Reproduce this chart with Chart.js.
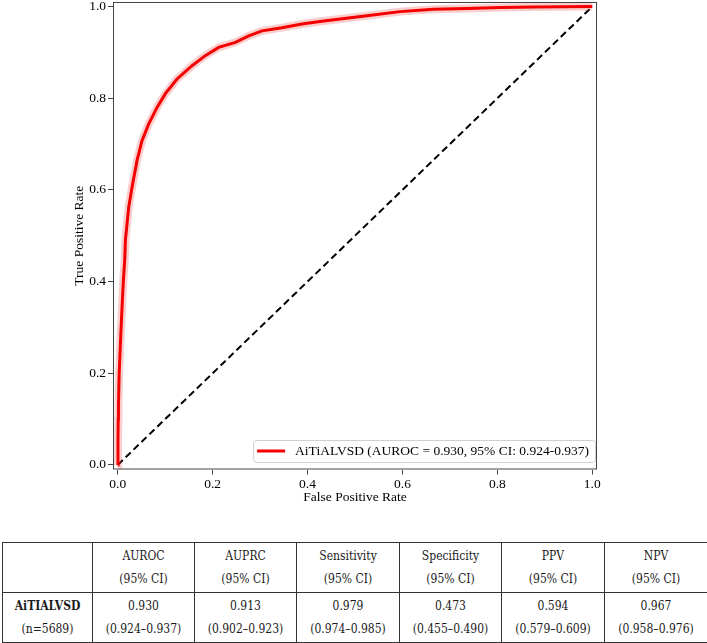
<!DOCTYPE html>
<html><head><meta charset="utf-8">
<script src="https://cdn.jsdelivr.net/npm/chart.js@4.4.1/dist/chart.umd.min.js"></script>
<style>
html,body{margin:0;padding:0;background:#fff;}
#wrap{position:absolute;left:0;top:0;width:707px;height:516px;}
table{position:absolute;left:2px;top:542px;border-collapse:collapse;table-layout:fixed;width:705px;font-family:'DejaVu Serif Condensed','DejaVu Serif',serif;font-stretch:condensed;font-size:12px;color:#1a1a1a;}
td{border:1px solid #333;text-align:center;padding:0;line-height:23px;height:49px;}
</style></head><body>
<div id="wrap"><canvas id="c" width="707" height="516"></canvas></div>
<table id="t"><colgroup><col style="width:90px"><col style="width:102px"><col style="width:102px"><col style="width:103px"><col style="width:102px"><col style="width:103px"><col style="width:103px"></colgroup></table>
<script>
// ROC curve
const fpr = [0, 0.0005, 0.001, 0.0015, 0.003, 0.0057, 0.008, 0.0105, 0.012, 0.0147, 0.0162, 0.0232, 0.0303, 0.0408, 0.0513, 0.0653, 0.0829, 0.1004, 0.125, 0.1566, 0.1846, 0.2126, 0.248, 0.276, 0.304, 0.346, 0.388, 0.430, 0.486, 0.525, 0.595, 0.665, 0.736, 0.806, 0.876, 1.0];
const tpr = [0, 0.05, 0.10, 0.128, 0.20, 0.266, 0.32, 0.375, 0.404, 0.447, 0.491, 0.563, 0.607, 0.665, 0.708, 0.744, 0.780, 0.810, 0.842, 0.871, 0.893, 0.911, 0.922, 0.936, 0.947, 0.954, 0.962, 0.968, 0.975, 0.980, 0.989, 0.994, 0.996, 0.998, 0.999, 1.0];
const chanceX = [0, 1];
const chanceY = [0, 1];
const curveLabel = 'AiTiALVSD (AUROC = 0.930, 95% CI: 0.924-0.937)';
const axisTicks = [0, 0.2, 0.4, 0.6, 0.8, 1.0];

// Table
const metricNames = ['AUROC', 'AUPRC', 'Sensitivity', 'Specificity', 'PPV', 'NPV'];
const metricValues = ['0.930', '0.913', '0.979', '0.473', '0.594', '0.967'];
const metricCIs = ['(0.924–0.937)', '(0.902–0.923)', '(0.974–0.985)', '(0.455–0.490)', '(0.579–0.609)', '(0.958–0.976)'];
const modelName = 'AiTIALVSD';
const modelN = '(n=5689)';

const tbl = document.getElementById('t');
let h = '<tr><td></td>';
metricNames.forEach(m => { h += '<td>' + m + '<br>(95% CI)</td>'; });
h += '</tr><tr><td><b>' + modelName + '</b><br>' + modelN + '</td>';
metricValues.forEach((v, i) => { h += '<td>' + v + '<br>' + metricCIs[i] + '</td>'; });
h += '</tr>';
tbl.insertAdjacentHTML('beforeend', h);

const pts = fpr.map((x, i) => ({x: x, y: tpr[i]}));
const diag = chanceX.map((x, i) => ({x: x, y: chanceY[i]}));
const FONT = {family: "'Liberation Serif', serif", size: 13.5};

const framePlugin = {
  id: 'frame',
  afterDraw(chart) {
    const ctx = chart.ctx, a = chart.chartArea;
    ctx.save();
    ctx.strokeStyle = '#444'; ctx.lineWidth = 1;
    ctx.strokeRect(a.left + 0.5, a.top + 0.5, a.right - a.left - 1, a.bottom - a.top - 1);
    // legend
    const label = chart.data.datasets[0].label;
    ctx.font = "13.5px 'Liberation Serif', serif";
    const tw = ctx.measureText(label).width;
    const bw = 4 + 28 + 10 + tw + 6, bh = 22;
    const bx = a.right - 2 - bw, by = a.bottom - 7.5 - bh;
    ctx.beginPath();
    if (ctx.roundRect) ctx.roundRect(bx + 0.5, by + 0.5, bw, bh, 3); else ctx.rect(bx + 0.5, by + 0.5, bw, bh);
    ctx.fillStyle = 'rgba(255,255,255,0.8)'; ctx.fill();
    ctx.strokeStyle = '#d0d0d0'; ctx.stroke();
    ctx.beginPath();
    ctx.moveTo(bx + 4, by + bh / 2); ctx.lineTo(bx + 32, by + bh / 2);
    ctx.strokeStyle = 'rgb(245,0,0)'; ctx.lineWidth = 3; ctx.stroke();
    ctx.fillStyle = '#000'; ctx.textBaseline = 'middle'; ctx.textAlign = 'left';
    ctx.fillText(label, bx + 42, by + bh / 2 + 0.5);
    ctx.restore();
  }
};

new Chart(document.getElementById('c'), {
  type: 'line',
  data: {
    datasets: [
      {label: curveLabel, data: pts, borderColor: 'rgb(245,0,0)', borderWidth: 3, pointRadius: 0, tension: 0},
      {label: 'band', data: pts, borderColor: 'rgba(240,60,60,0.25)', borderWidth: 8, pointRadius: 0, tension: 0},
      {label: 'chance', data: diag, borderColor: '#000', borderWidth: 2, borderDash: [7, 4], pointRadius: 0, tension: 0}
    ]
  },
  options: {
    responsive: false, animation: false, devicePixelRatio: 1,
    layout: {padding: {left: 0, right: 110, top: 2, bottom: 0}},
    plugins: {legend: {display: false}, tooltip: {enabled: false}},
    scales: {
      x: {
        type: 'linear', min: -0.01, max: 1.01,
        afterBuildTicks(s) { s.ticks = axisTicks.map(v => ({value: v})); },
        afterFit(s) { s.height = 46.5; s.paddingLeft = 0; s.paddingRight = 0; },
        ticks: {font: FONT, color: '#000', padding: 2, maxRotation: 0, callback: v => v.toFixed(1)},
        grid: {drawOnChartArea: false, drawTicks: true, tickLength: 5, color: '#444'},
        border: {display: false},
        title: {display: true, text: 'False Positive Rate', font: FONT, color: '#000', padding: {top: 0, bottom: 10.6}}
      },
      y: {
        type: 'linear', min: -0.01, max: 1.01,
        afterBuildTicks(s) { s.ticks = axisTicks.map(v => ({value: v})); },
        afterFit(s) { s.width = 113; s.paddingTop = 0; s.paddingBottom = 0; },
        ticks: {font: FONT, color: '#000', padding: 2, callback: v => v.toFixed(1)},
        grid: {drawOnChartArea: false, drawTicks: true, tickLength: 5, color: '#444'},
        border: {display: false},
        title: {display: true, text: 'True Positive Rate', font: FONT, color: '#000', padding: {top: 71.6, bottom: 0}}
      }
    }
  },
  plugins: [framePlugin]
});
</script>
</body></html>
